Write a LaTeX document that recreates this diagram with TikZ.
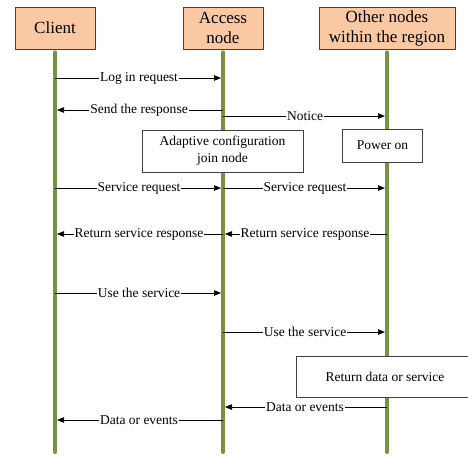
\documentclass[tikz,border=0pt]{standalone}
\usepackage{fontspec}
\setmainfont{Liberation Serif}
\usepackage{tikz}
\usetikzlibrary{arrows.meta,positioning,calc}
\definecolor{Peach}{HTML}{FAC9A3}
\definecolor{Olive}{HTML}{77933C}
\definecolor{Edge}{HTML}{404040}
\tikzset{
  head/.style={draw=Edge, fill=Peach, line width=0.8pt, align=center, inner sep=2pt, minimum height=42pt, font=\fontsize{17}{20}\selectfont},
  note/.style={draw=Edge, fill=white, line width=0.8pt, align=center, inner sep=2pt, font=\fontsize{13.5}{17}\selectfont},
  life/.style={draw=Olive, line width=4pt, line cap=round},
  msg/.style={-{Triangle[length=7pt,width=5.5pt]}, line width=0.7pt, draw=black, shorten >=2pt},
  lbl/.style={fill=white, inner sep=1pt, font=\fontsize{13.5}{15}\selectfont}
}

\begin{document}
\begin{tikzpicture}[x=1pt, y=-1pt]
\clip (0,0) rectangle (468,456);
% participants
\node[head, minimum width=80pt] (client) at (55,28) {Client};
\node[head, minimum width=80pt] (access) at (223,28) {Access\\node};
\node[head, minimum width=136pt] (others) at (387,28) {Other nodes\\within the region};
\coordinate (bot) at (0,452);
% lifelines
\draw[life] ($(client.south)+(0,3)$) -- (client |- bot);
\draw[life] ($(access.south)+(0,3)$) -- (access |- bot);
\draw[life] ($(others.south)+(0,3)$) -- (others |- bot);
% message rows
\coordinate (r1) at (0,78);
\coordinate (r2) at (0,110);
\coordinate (r3) at (0,116);
\coordinate (r4) at (0,188);
\coordinate (r5) at (0,234);
\coordinate (r6) at (0,293);
\coordinate (r7) at (0,332);
\coordinate (r8) at (0,407);
\coordinate (r9) at (0,420);
\draw[msg] (r1 -| client) -- node[lbl]{Log in request} (r1 -| access);
\draw[msg] (r2 -| access) -- node[lbl]{Send the response} (r2 -| client);
\draw[msg] (r3 -| access) -- node[lbl]{Notice} (r3 -| others);
% state boxes
\node[note, minimum width=161pt, minimum height=42pt] (adapt) at (222.5,151) {Adaptive configuration\\join node};
\node[note, minimum width=80pt, minimum height=33pt] (power) at (382.5,145.5) {Power on};
\draw[msg] (r4 -| client) -- node[lbl]{Service request} (r4 -| access);
\draw[msg] (r4 -| access) -- node[lbl]{Service request} (r4 -| others);
\draw[msg] (r5 -| others) -- node[lbl]{Return service response} (r5 -| access);
\draw[msg] (r5 -| access) -- node[lbl]{Return service response} (r5 -| client);
\draw[msg] (r6 -| client) -- node[lbl]{Use the service} (r6 -| access);
\draw[msg] (r7 -| access) -- node[lbl]{Use the service} (r7 -| others);
% box runs past the right edge of the page
\node[note, minimum width=178pt, minimum height=41pt] (ret) at (385,376.5) {Return data or service};
\draw[msg] (r8 -| others) -- node[lbl]{Data or events} (r8 -| access);
\draw[msg] (r9 -| access) -- node[lbl]{Data or events} (r9 -| client);
\end{tikzpicture}
\end{document}
